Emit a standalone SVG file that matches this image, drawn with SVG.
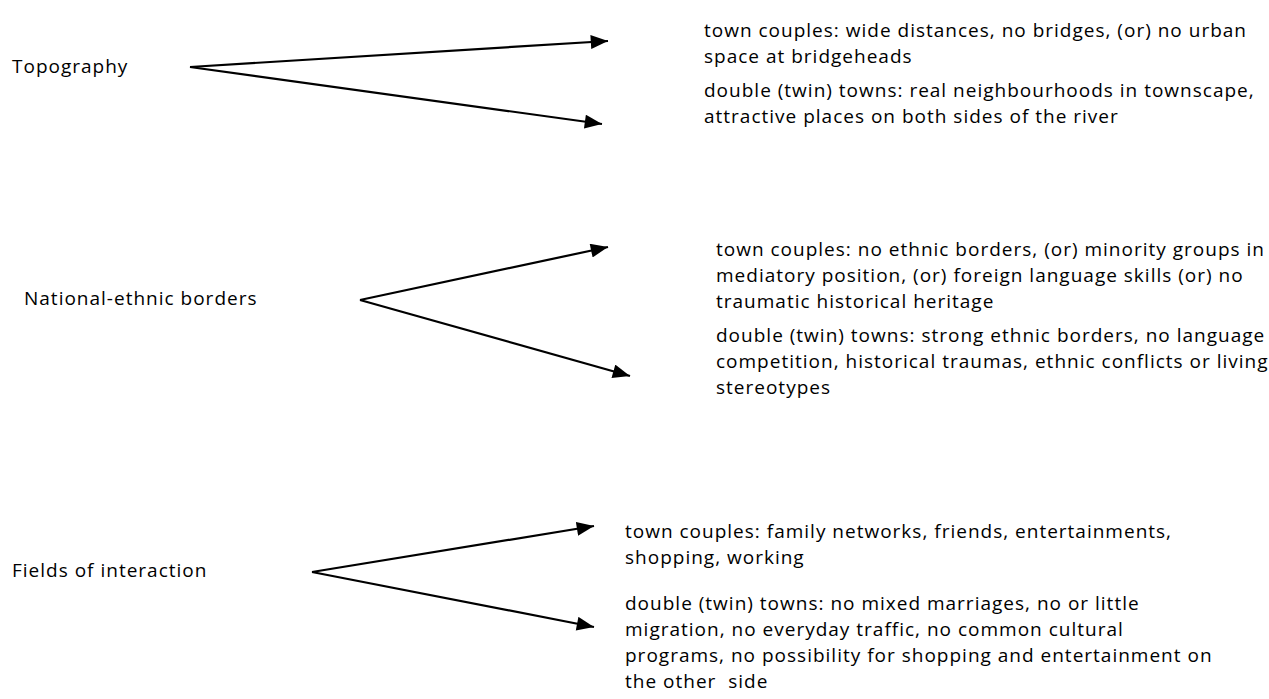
<svg xmlns="http://www.w3.org/2000/svg" width="1269" height="699" viewBox="0 0 1269 699">
<style>
text{font-family:"Open Sans","Liberation Sans",sans-serif;font-size:19px;letter-spacing:1px;fill:#000}
.c{stroke:#000;stroke-width:2.2;fill:none;marker-end:url(#ah)}
</style>
<defs>
<marker id="ah" markerUnits="userSpaceOnUse" markerWidth="18" markerHeight="14" refX="16" refY="6.5" orient="auto" viewBox="0 0 16 13">
<path d="M0,0 L16,6.5 L0,13 z" fill="#000"/>
</marker>
</defs>
<rect width="1269" height="699" fill="#fff"/>
<g id="connectors">
<line class="c" x1="190" y1="67" x2="608" y2="41"/>
<line class="c" x1="190" y1="67" x2="602" y2="124"/>
<line class="c" x1="360" y1="300" x2="608" y2="247"/>
<line class="c" x1="360" y1="300" x2="630" y2="376"/>
<line class="c" x1="312" y1="572" x2="594" y2="526"/>
<line class="c" x1="312" y1="572" x2="594" y2="627"/>
</g>
<g id="topography"><text x="12" y="73">Topography</text></g>
<g id="national"><text x="24" y="305">National-ethnic borders</text></g>
<g id="fields"><text x="12" y="577">Fields of interaction</text></g>
<g id="topo-couples"><text x="704" y="37">town couples: wide distances, no bridges, (or) no urban</text><text x="704" y="63">space at bridgeheads</text></g>
<g id="topo-double"><text x="704" y="97">double (twin) towns: real neighbourhoods in townscape,</text><text x="704" y="123">attractive places on both sides of the river</text></g>
<g id="nat-couples"><text x="716" y="256">town couples: no ethnic borders, (or) minority groups in</text><text x="716" y="282">mediatory position, (or) foreign language skills (or) no</text><text x="716" y="308">traumatic historical heritage</text></g>
<g id="nat-double"><text x="716" y="342">double (twin) towns: strong ethnic borders, no language</text><text x="716" y="368">competition, historical traumas, ethnic conflicts or living</text><text x="716" y="394">stereotypes</text></g>
<g id="fields-couples"><text x="625" y="538">town couples: family networks, friends, entertainments,</text><text x="625" y="564">shopping, working</text></g>
<g id="fields-double"><text x="625" y="610">double (twin) towns: no mixed marriages, no or little</text><text x="625" y="636">migration, no everyday traffic, no common cultural</text><text x="625" y="662">programs, no possibility for shopping and entertainment on</text><text x="625" y="688" xml:space="preserve">the other  side</text></g>
</svg>
